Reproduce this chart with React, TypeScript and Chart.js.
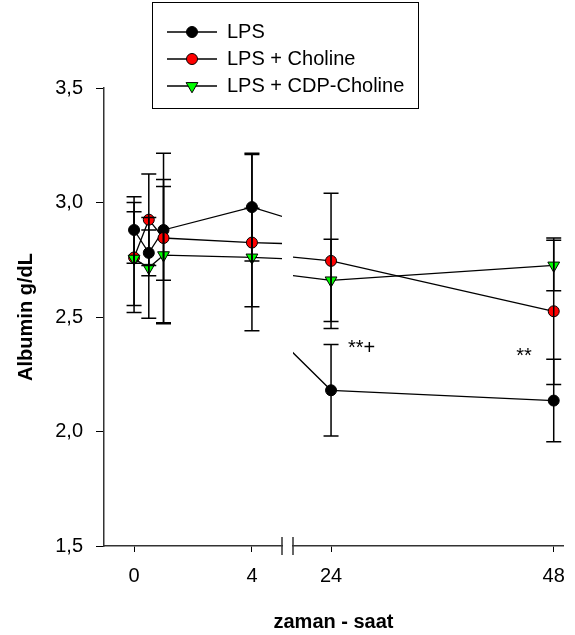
import React, { useEffect, useRef } from 'react';
import { Chart, registerables } from 'chart.js';
Chart.register(...registerables);

const FONT = '"Liberation Sans", Arial, Helvetica, sans-serif';

// ---- data ----
const times = [0, 0.5, 1, 4, 24, 48];
const lpsMean = [2.88, 2.78, 2.88, 2.98, 2.18, 2.135];
const lpsErr = [0.145, 0.10, 0.22, 0.235, 0.20, 0.18];
const cholineMean = [2.76, 2.925, 2.845, 2.825, 2.745, 2.525];
const cholineErr = [0.24, 0.20, 0.37, 0.385, 0.295, 0.32];
const cdpMean = [2.755, 2.715, 2.77, 2.76, 2.66, 2.725];
const cdpErr = [0.205, 0.22, 0.30, 0.215, 0.18, 0.11];
const seriesNames = ['LPS', 'LPS + Choline', 'LPS + CDP-Choline'];
const leftTicks = [0, 4];
const rightTicks = [24, 48];
const yTicks = [1.5, 2.0, 2.5, 3.0, 3.5];
const leftRange = [-1.02, 5.02];
const rightRange = [19.9, 49];
const yRange = [1.5, 3.5];
const annotTexts = ['**+', '**'];
const annotTimes = [24, 48];
const annotValues = [2.338, 2.303];
const xTitle = 'zaman - saat';
const yTitle = 'Albumin g/dL';

const series = [
  { name: seriesNames[0], mean: lpsMean, err: lpsErr, color: '#000000', style: 'circle', radius: 5.5, rotation: 0, order: 2 },
  { name: seriesNames[1], mean: cholineMean, err: cholineErr, color: '#ff0000', style: 'circle', radius: 5.5, rotation: 0, order: 1 },
  { name: seriesNames[2], mean: cdpMean, err: cdpErr, color: '#00ff00', style: 'triangle', radius: 6.8, rotation: 180, order: 0 },
];

function drawMarker(ctx: CanvasRenderingContext2D, s: any, x: number, y: number) {
  ctx.beginPath();
  if (s.style === 'circle') {
    ctx.arc(x, y, s.radius, 0, Math.PI * 2);
  } else {
    const r = s.radius;
    let rad = (s.rotation * Math.PI) / 180;
    ctx.moveTo(x + Math.sin(rad) * r, y - Math.cos(rad) * r);
    rad += (2 * Math.PI) / 3;
    ctx.lineTo(x + Math.sin(rad) * r, y - Math.cos(rad) * r);
    rad += (2 * Math.PI) / 3;
    ctx.lineTo(x + Math.sin(rad) * r, y - Math.cos(rad) * r);
    ctx.closePath();
  }
  ctx.fillStyle = s.color;
  ctx.fill();
  ctx.lineWidth = 1;
  ctx.strokeStyle = '#000';
  ctx.stroke();
}

const decorPlugin = {
  id: 'decor',
  afterDatasetsDraw(chart: any) {
    const ctx: CanvasRenderingContext2D = chart.ctx;
    const ys = chart.scales.y;
    const xScales = [chart.scales.xL, chart.scales.xR];
    ctx.save();
    ctx.strokeStyle = '#000';
    ctx.lineWidth = 1.5;
    const cap = 7.5;
    series.forEach((s) => {
      times.forEach((t, i) => {
        xScales.forEach((sc) => {
          if (t < sc.min || t > sc.max) return;
          const px = sc.getPixelForValue(t);
          const yTop = ys.getPixelForValue(s.mean[i] + s.err[i]);
          const yBot = ys.getPixelForValue(s.mean[i] - s.err[i]);
          ctx.beginPath();
          ctx.moveTo(px, yTop);
          ctx.lineTo(px, yBot);
          ctx.moveTo(px - cap, yTop);
          ctx.lineTo(px + cap, yTop);
          ctx.moveTo(px - cap, yBot);
          ctx.lineTo(px + cap, yBot);
          ctx.stroke();
        });
      });
    });
    ctx.restore();
  },
  afterDraw(chart: any) {
    const ctx: CanvasRenderingContext2D = chart.ctx;
    const ca = chart.chartArea;
    const ys = chart.scales.y;
    const xL = chart.scales.xL;
    const xR = chart.scales.xR;
    ctx.save();
    // axis break marks
    ctx.strokeStyle = '#333';
    ctx.lineWidth = 1.5;
    ctx.beginPath();
    ctx.moveTo(xL.right, ca.bottom - 9);
    ctx.lineTo(xL.right, ca.bottom + 9);
    ctx.moveTo(xR.left, ca.bottom - 9);
    ctx.lineTo(xR.left, ca.bottom + 9);
    ctx.stroke();

    // annotations
    ctx.fillStyle = '#000';
    ctx.font = `20px ${FONT}`;
    ctx.textBaseline = 'alphabetic';
    annotTexts.forEach((txt, i) => {
      const t = annotTimes[i];
      const sc = t >= xR.min ? xR : xL;
      const px = sc.getPixelForValue(t);
      const py = ys.getPixelForValue(annotValues[i]);
      if (i === 0) {
        ctx.textAlign = 'left';
        ctx.fillText(txt, px + 17, py);
      } else {
        ctx.textAlign = 'right';
        ctx.fillText(txt, px - 22, py);
      }
    });

    // x title
    ctx.font = `bold 20px ${FONT}`;
    ctx.textAlign = 'center';
    ctx.fillText(xTitle, (ca.left + ca.right) / 2, ca.bottom + 82);

    // legend
    const L = { x: 152.5, y: 2.5, w: 266, h: 106 };
    ctx.strokeStyle = '#000';
    ctx.lineWidth = 1;
    ctx.strokeRect(L.x, L.y, L.w, L.h);
    const rows = [32, 59, 86];
    series.forEach((s, i) => {
      const yy = rows[i];
      ctx.strokeStyle = '#000';
      ctx.lineWidth = 1.3;
      ctx.beginPath();
      ctx.moveTo(167, yy);
      ctx.lineTo(217, yy);
      ctx.stroke();
      drawMarker(ctx, s, 192, yy);
      ctx.fillStyle = '#000';
      ctx.font = `20px ${FONT}`;
      ctx.textAlign = 'left';
      ctx.textBaseline = 'middle';
      ctx.fillText(s.name, 227, yy);
    });
    ctx.restore();
  },
};

function zeroPad(sc: any) {
  sc.paddingLeft = 0;
  sc.paddingRight = 0;
  sc.paddingTop = 0;
  sc.paddingBottom = 0;
}

export default function App() {
  const ref = useRef<HTMLCanvasElement>(null);
  useEffect(() => {
    if (!ref.current) return;
    const datasets: any[] = [];
    series.forEach((s) => {
      ['xL', 'xR'].forEach((axisId) => {
        datasets.push({
          label: s.name,
          xAxisID: axisId,
          yAxisID: 'y',
          order: s.order,
          data: times.map((t, i) => ({ x: t, y: s.mean[i] })),
          borderColor: '#000',
          borderWidth: 1.3,
          backgroundColor: s.color,
          pointStyle: s.style,
          pointRadius: s.radius,
          pointRotation: s.rotation,
          pointBorderColor: '#000',
          pointBorderWidth: 1,
          pointBackgroundColor: s.color,
          tension: 0,
          fill: false,
          clip: 0,
        });
      });
    });

    const tickFont = { family: FONT, size: 20 };
    const xCommon = (weight: number, stackWeight: number, range: number[], ticks: number[]) => ({
      type: 'linear',
      position: 'bottom',
      stack: 'xstack',
      stackWeight,
      weight,
      min: range[0],
      max: range[1],
      afterBuildTicks: (sc: any) => {
        sc.ticks = ticks.map((v) => ({ value: v }));
      },
      afterFit: (sc: any) => {
        sc.height = 89;
        zeroPad(sc);
      },
      grid: { display: true, drawOnChartArea: false, drawTicks: true, tickLength: 6, color: '#000', lineWidth: 1 },
      border: { display: true, color: '#333', width: 1.5 },
      ticks: {
        font: tickFont,
        color: '#000',
        padding: 12,
        maxRotation: 0,
        autoSkip: false,
        callback: (v: any) => String(v),
      },
    });

    const chart = new Chart(ref.current, {
      type: 'line',
      data: { datasets },
      options: {
        animation: false,
        responsive: true,
        maintainAspectRatio: false,
        layout: { padding: { top: 88, right: 12, left: 0, bottom: 0 } },
        plugins: { legend: { display: false }, tooltip: { enabled: false }, title: { display: false } },
        scales: {
          xL: xCommon(1, 178, leftRange, leftTicks),
          xGap: {
            type: 'linear',
            position: 'bottom',
            stack: 'xstack',
            stackWeight: 11,
            weight: 2,
            min: 0,
            max: 1,
            afterFit: (sc: any) => {
              sc.height = 89;
              zeroPad(sc);
            },
            grid: { display: false },
            border: { display: false },
            ticks: { display: false },
          },
          xR: xCommon(3, 270, rightRange, rightTicks),
          y: {
            type: 'linear',
            position: 'left',
            min: yRange[0],
            max: yRange[1],
            afterBuildTicks: (sc: any) => {
              sc.ticks = yTicks.map((v) => ({ value: v }));
            },
            afterFit: (sc: any) => {
              sc.width = 104;
              zeroPad(sc);
            },
            grid: { display: true, drawOnChartArea: false, drawTicks: true, tickLength: 8, color: '#000', lineWidth: 1 },
            border: { display: true, color: '#333', width: 1.5 },
            ticks: {
              font: tickFont,
              color: '#000',
              padding: 13,
              callback: (v: any) => Number(v).toFixed(1).replace('.', ','),
            },
            title: {
              display: true,
              text: yTitle,
              color: '#000',
              font: { family: FONT, size: 20, weight: 'bold' },
              padding: { top: 14, bottom: 0 },
            },
          },
        },
      } as any,
      plugins: [decorPlugin],
    } as any);
    return () => chart.destroy();
  }, []);

  return (
    <div style={{ position: 'fixed', left: 0, top: 0, width: 575, height: 635, background: '#fff' }}>
      <canvas ref={ref} />
    </div>
  );
}
